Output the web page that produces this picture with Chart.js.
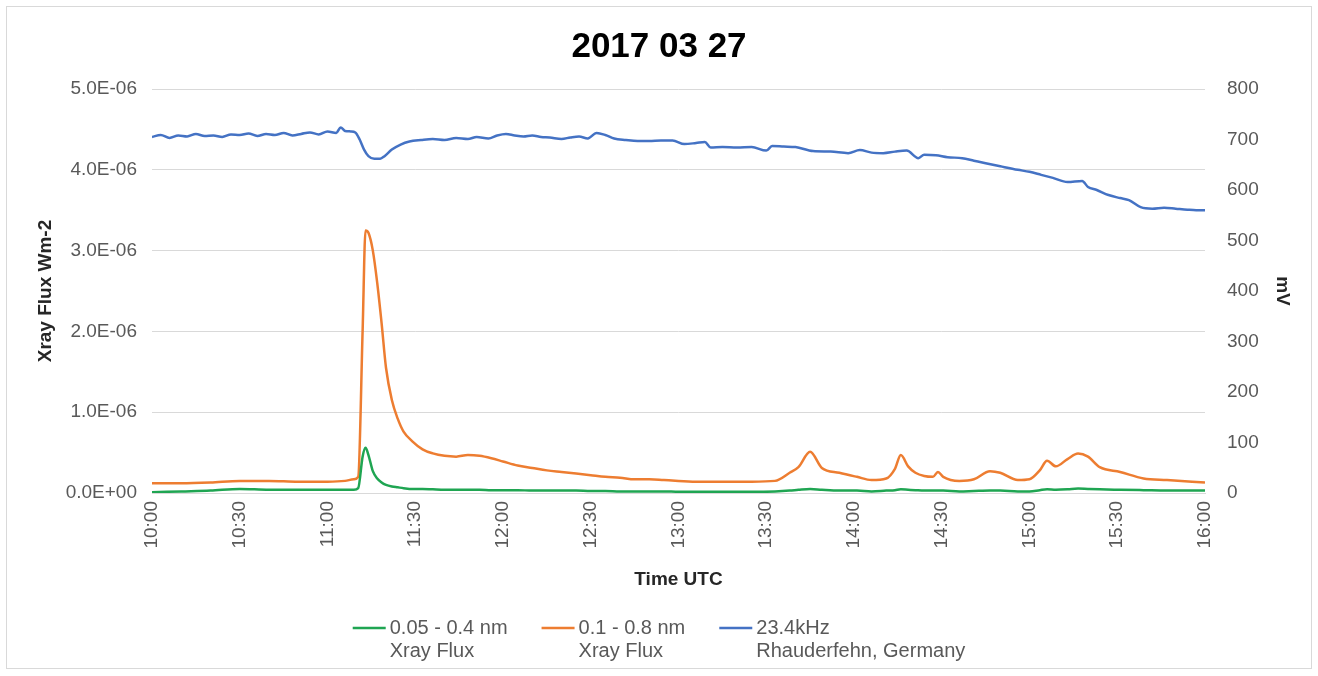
<!DOCTYPE html>
<html>
<head>
<meta charset="utf-8">
<title>2017 03 27</title>
<script src="https://cdn.jsdelivr.net/npm/chart.js@4.4.1/dist/chart.umd.min.js"></script>
<style>
  html, body { margin: 0; padding: 0; background: #fff; }
  #wrap { width: 1318px; height: 676px; position: relative; }
</style>
</head>
<body>
<div id="wrap"><canvas id="myChart"></canvas></div>
<script>
// minutes after 10:00 UTC
const xrayTimes = [0,10,20,30,40,50,60,66,69,70.5,72,73,74,75.5,77,78.5,80,82,84,86,89,92.5,96,100,104,108,112,116,120,125,130,135,140,145,150,155,160,165,170,175,180,187,195,205,213,218,221,225,229,235,241,246,251,254,256,258.5,261,264,267,268.7,270.5,276,281,286.5,290,296,300,303.5,306,309,313,316.6,320,324,331,339,347,360];
// 0.1 - 0.8 nm, in 1e-6 W/m2
const longFlux = [.12,.12,.13,.15,.15,.14,.14,.15,.17,.20,2.0,3.25,3.22,3.0,2.6,2.1,1.55,1.15,.92,.76,.64,.54,.49,.46,.45,.47,.46,.43,.39,.34,.31,.28,.26,.24,.22,.20,.19,.17,.17,.16,.15,.14,.14,.14,.15,.25,.32,.51,.31,.25,.20,.16,.18,.30,.47,.33,.25,.21,.20,.26,.20,.15,.17,.27,.25,.16,.17,.28,.40,.33,.42,.49,.45,.32,.26,.18,.16,.13];
// 0.05 - 0.4 nm, in 1e-6 W/m2
const shortFlux = [.01,.02,.03,.05,.04,.04,.04,.04,.04,.06,.45,.56,.47,.27,.18,.13,.10,.08,.07,.06,.05,.05,.045,.04,.04,.04,.04,.035,.035,.035,.03,.03,.03,.03,.025,.025,.02,.02,.02,.02,.015,.015,.015,.015,.02,.03,.04,.05,.04,.03,.03,.02,.03,.035,.045,.04,.035,.03,.03,.03,.03,.02,.025,.03,.03,.02,.02,.035,.045,.04,.045,.055,.05,.045,.04,.035,.03,.03];

const vlfTimes = [0,3,6,9,12,15,18,21,24,27,30,33,36,39,42,45,48,51,54,57,60,63,64.5,66,68,69.5,71,72.5,74,76,78,79.5,82,85,88,92,96,100,104,108,111,115,118,121,124,127,130,133,136,140,143,146,149,152,155,158,162,166,170,174,178,182,186,189,191,195,200,205,210,212,216,220,226,232,238,242,246,250,254,258,262,264,268,272,277,281,285,290,296,300,304,308,313,318,320,323,327,331,334,338,342,346,350,354,357,360];
// 23.4kHz signal, mV
const vlfSignal = [705,709,703,708,706,711,707,708,705,710,709,712,707,711,709,713,708,711,714,710,716,713,724,717,716,714,700,680,667,662,662,667,680,690,696,699,701,699,703,701,705,702,708,711,708,706,708,705,704,701,704,706,702,713,709,702,699,697,697,698,698,691,693,695,684,685,684,685,678,687,686,685,677,676,673,679,674,673,676,678,663,670,669,665,663,658,653,647,640,636,630,624,616,618,606,600,590,584,580,566,563,565,563,561,560,560];

const seriesLabels = [['0.05 - 0.4 nm', 'Xray Flux'], ['0.1 - 0.8 nm', 'Xray Flux'], ['23.4kHz', 'Rhauderfehn, Germany']];
const seriesColors = ['#1fa552', '#ed7d31', '#4472c4'];

function toPoints(times, vals, scale) {
  return times.map((t, i) => ({ x: t, y: vals[i] * scale }));
}

function sciLabel(v) {
  if (Math.abs(v) < 1e-12) return '0.0E+00';
  const e = Math.floor(Math.log10(Math.abs(v)) + 1e-9);
  const m = v / Math.pow(10, e);
  return m.toFixed(1) + 'E' + (e < 0 ? '-' : '+') + String(Math.abs(e)).padStart(2, '0');
}

function timeLabel(v) {
  const total = 600 + v;
  const h = Math.floor(total / 60), mm = total % 60;
  return h + ':' + String(mm).padStart(2, '0');
}

// white background + thin outer frame
const frame = {
  id: 'frame',
  beforeDraw(chart) {
    const c = chart.ctx;
    c.save();
    c.fillStyle = '#fff';
    c.fillRect(0, 0, chart.width, chart.height);
    c.strokeStyle = '#d9d9d9';
    c.lineWidth = 1;
    c.strokeRect(6.5, 6.5, chart.width - 13, chart.height - 14);
    c.restore();
  }
};

// two-line legend under the x axis title (built-in legend clips the 2nd line)
const twoLineLegend = {
  id: 'twoLineLegend',
  afterDraw(chart) {
    const c = chart.ctx;
    const sets = chart.data.datasets;
    const lineLen = 33, textGap = 4, itemGap = 34, rowH = 23;
    c.save();
    c.font = '20px "Liberation Sans"';
    c.textBaseline = 'middle';
    c.textAlign = 'left';
    const widths = sets.map(ds => lineLen + textGap + Math.max(...ds.label.map(s => c.measureText(s).width)));
    const total = widths.reduce((a, b) => a + b, 0) + itemGap * (sets.length - 1);
    let x = chart.width / 2 - total / 2;
    const y = chart.scales.x.bottom + 39;
    sets.forEach((ds, i) => {
      c.strokeStyle = ds.borderColor;
      c.lineWidth = 2.5;
      c.beginPath();
      c.moveTo(x, y);
      c.lineTo(x + lineLen, y);
      c.stroke();
      c.fillStyle = '#595959';
      ds.label.forEach((s, k) => c.fillText(s, x + lineLen + textGap, y + k * rowH));
      x += widths[i] + itemGap;
    });
    c.restore();
  }
};

const ctx = document.getElementById('myChart').getContext('2d');
const lineOpts = { pointRadius: 0, borderWidth: 2.5, fill: false, cubicInterpolationMode: 'monotone' };
const tickFont = { family: 'Liberation Sans', size: 19 };

new Chart(ctx, {
  type: 'line',
  data: {
    datasets: [
      Object.assign({ label: seriesLabels[0], data: toPoints(xrayTimes, shortFlux, 1e-6), borderColor: seriesColors[0], backgroundColor: seriesColors[0], yAxisID: 'y' }, lineOpts),
      Object.assign({ label: seriesLabels[1], data: toPoints(xrayTimes, longFlux, 1e-6), borderColor: seriesColors[1], backgroundColor: seriesColors[1], yAxisID: 'y' }, lineOpts),
      Object.assign({ label: seriesLabels[2], data: toPoints(vlfTimes, vlfSignal, 1), borderColor: seriesColors[2], backgroundColor: seriesColors[2], yAxisID: 'y2' }, lineOpts)
    ]
  },
  options: {
    responsive: true,
    maintainAspectRatio: false,
    animation: false,
    layout: { padding: { top: 21, left: 20, right: 20, bottom: 87 } },
    plugins: {
      title: {
        display: true,
        text: '2017 03 27',
        color: '#000',
        font: { family: 'Liberation Sans', size: 35, weight: 'bold' },
        padding: { top: 5, bottom: 21 }
      },
      legend: { display: false },
      tooltip: { enabled: false }
    },
    scales: {
      x: {
        type: 'linear',
        min: 0,
        max: 360,
        afterFit(s) { s.height = 96; },
        grid: { display: false, drawTicks: false },
        border: { display: true, color: '#d9d9d9' },
        ticks: {
          stepSize: 30,
          autoSkip: false,
          maxRotation: 90,
          minRotation: 90,
          padding: 8,
          color: '#595959',
          font: tickFont,
          callback: timeLabel
        },
        title: {
          display: true,
          text: 'Time UTC',
          color: '#262626',
          font: { family: 'Liberation Sans', size: 19, weight: 'bold', lineHeight: 1.0 },
          padding: { top: 4, bottom: 0 }
        }
      },
      y: {
        position: 'left',
        min: 0,
        max: 5e-6,
        afterFit(s) { s.width = 132; },
        grid: { color: '#d9d9d9', drawTicks: false },
        border: { display: false },
        ticks: {
          stepSize: 1e-6,
          padding: 15,
          color: '#595959',
          font: tickFont,
          callback: sciLabel
        },
        title: {
          display: true,
          text: 'Xray Flux Wm-2',
          color: '#262626',
          font: { family: 'Liberation Sans', size: 19, weight: 'bold' },
          padding: { top: 14, bottom: 0 }
        }
      },
      y2: {
        position: 'right',
        min: 0,
        max: 800,
        afterFit(s) { s.width = 93; },
        grid: { display: false, drawTicks: false },
        border: { display: false },
        ticks: {
          stepSize: 100,
          padding: 22,
          color: '#595959',
          font: tickFont
        },
        title: {
          display: true,
          text: 'mV',
          color: '#262626',
          font: { family: 'Liberation Sans', size: 19, weight: 'bold' },
          padding: { top: 4, bottom: 0 }
        }
      }
    }
  },
  plugins: [frame, twoLineLegend]
});
</script>
</body>
</html>
